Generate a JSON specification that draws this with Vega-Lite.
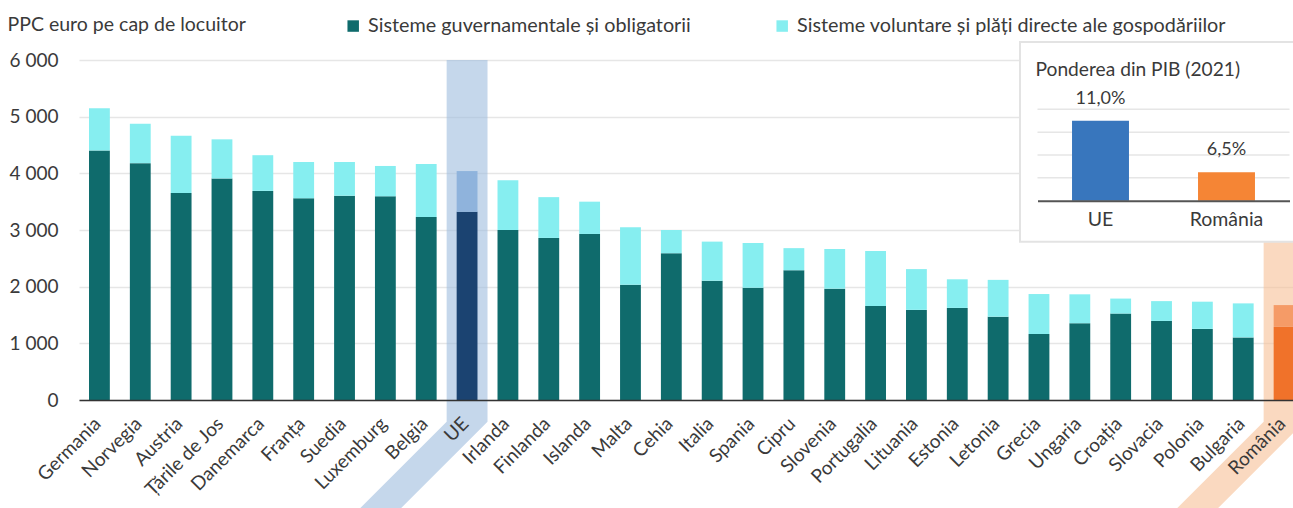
{
  "$schema": "https://vega.github.io/schema/vega-lite/v6.json",
  "width": 1214,
  "height": 340,
  "autosize": {"type": "none"},
  "padding": {"left": 79, "top": 60, "right": 0, "bottom": 108},
  "background": "white",
  "config": {
    "view": {"stroke": null},
    "locale": {"number": {"decimal": ",", "thousands": " ", "grouping": [3], "currency": ["", ""]}},
    "font": "Lato",
    "axis": {"labelFont": "Lato", "titleFont": "Lato", "labelColor": "#3a3a3a", "titleColor": "#3a3a3a", "titleFontWeight": "normal", "labelFontWeight": "normal"},
    "text": {"font": "Lato"}
  },
  "resolve": {"scale": {"x": "independent", "y": "independent", "color": "independent"}},
  "layer": [
    {
      "data": {"values": [
        {"hl": "UE", "lvl": 6000, "from": 9, "to": 10},
        {"hl": "UE", "lvl": -383, "from": 9, "to": 10},
        {"hl": "UE", "lvl": -2300, "from": 6.34, "to": 7.34},
        {"hl": "România", "lvl": 6000, "from": 29, "to": 30},
        {"hl": "România", "lvl": -383, "from": 29, "to": 30},
        {"hl": "România", "lvl": -2300, "from": 26.34, "to": 27.34}
      ]},
      "mark": {"type": "area", "orient": "horizontal", "opacity": 0.6},
      "encoding": {
        "y": {"field": "lvl", "type": "quantitative", "scale": {"domain": [0, 6000], "nice": false, "zero": false}, "axis": null},
        "x": {"field": "from", "type": "quantitative", "stack": null, "scale": {"domain": [0, 30], "range": [0, 1225.5], "nice": false, "zero": false}, "axis": null},
        "x2": {"field": "to"},
        "color": {"field": "hl", "type": "nominal", "scale": {"domain": ["UE", "România"], "range": ["#9ebcde", "#f7c096"]}, "legend": null}
      }
    },
    {
      "data": {"values": [
        {"country": "Germania", "series": "Sisteme guvernamentale și obligatorii", "value": 4405},
        {"country": "Germania", "series": "Sisteme voluntare și plăți directe ale gospodăriilor", "value": 745},
        {"country": "Norvegia", "series": "Sisteme guvernamentale și obligatorii", "value": 4180},
        {"country": "Norvegia", "series": "Sisteme voluntare și plăți directe ale gospodăriilor", "value": 695},
        {"country": "Austria", "series": "Sisteme guvernamentale și obligatorii", "value": 3655},
        {"country": "Austria", "series": "Sisteme voluntare și plăți directe ale gospodăriilor", "value": 1010},
        {"country": "Țările de Jos", "series": "Sisteme guvernamentale și obligatorii", "value": 3910},
        {"country": "Țările de Jos", "series": "Sisteme voluntare și plăți directe ale gospodăriilor", "value": 690},
        {"country": "Danemarca", "series": "Sisteme guvernamentale și obligatorii", "value": 3690},
        {"country": "Danemarca", "series": "Sisteme voluntare și plăți directe ale gospodăriilor", "value": 630},
        {"country": "Franța", "series": "Sisteme guvernamentale și obligatorii", "value": 3560},
        {"country": "Franța", "series": "Sisteme voluntare și plăți directe ale gospodăriilor", "value": 640},
        {"country": "Suedia", "series": "Sisteme guvernamentale și obligatorii", "value": 3605},
        {"country": "Suedia", "series": "Sisteme voluntare și plăți directe ale gospodăriilor", "value": 595},
        {"country": "Luxemburg", "series": "Sisteme guvernamentale și obligatorii", "value": 3595},
        {"country": "Luxemburg", "series": "Sisteme voluntare și plăți directe ale gospodăriilor", "value": 535},
        {"country": "Belgia", "series": "Sisteme guvernamentale și obligatorii", "value": 3230},
        {"country": "Belgia", "series": "Sisteme voluntare și plăți directe ale gospodăriilor", "value": 935},
        {"country": "UE", "series": "Sisteme guvernamentale și obligatorii", "value": 3320},
        {"country": "UE", "series": "Sisteme voluntare și plăți directe ale gospodăriilor", "value": 720},
        {"country": "Irlanda", "series": "Sisteme guvernamentale și obligatorii", "value": 3000},
        {"country": "Irlanda", "series": "Sisteme voluntare și plăți directe ale gospodăriilor", "value": 880},
        {"country": "Finlanda", "series": "Sisteme guvernamentale și obligatorii", "value": 2860},
        {"country": "Finlanda", "series": "Sisteme voluntare și plăți directe ale gospodăriilor", "value": 720},
        {"country": "Islanda", "series": "Sisteme guvernamentale și obligatorii", "value": 2930},
        {"country": "Islanda", "series": "Sisteme voluntare și plăți directe ale gospodăriilor", "value": 570},
        {"country": "Malta", "series": "Sisteme guvernamentale și obligatorii", "value": 2035},
        {"country": "Malta", "series": "Sisteme voluntare și plăți directe ale gospodăriilor", "value": 1015},
        {"country": "Cehia", "series": "Sisteme guvernamentale și obligatorii", "value": 2590},
        {"country": "Cehia", "series": "Sisteme voluntare și plăți directe ale gospodăriilor", "value": 410},
        {"country": "Italia", "series": "Sisteme guvernamentale și obligatorii", "value": 2105},
        {"country": "Italia", "series": "Sisteme voluntare și plăți directe ale gospodăriilor", "value": 690},
        {"country": "Spania", "series": "Sisteme guvernamentale și obligatorii", "value": 1980},
        {"country": "Spania", "series": "Sisteme voluntare și plăți directe ale gospodăriilor", "value": 790},
        {"country": "Cipru", "series": "Sisteme guvernamentale și obligatorii", "value": 2290},
        {"country": "Cipru", "series": "Sisteme voluntare și plăți directe ale gospodăriilor", "value": 390},
        {"country": "Slovenia", "series": "Sisteme guvernamentale și obligatorii", "value": 1965},
        {"country": "Slovenia", "series": "Sisteme voluntare și plăți directe ale gospodăriilor", "value": 700},
        {"country": "Portugalia", "series": "Sisteme guvernamentale și obligatorii", "value": 1660},
        {"country": "Portugalia", "series": "Sisteme voluntare și plăți directe ale gospodăriilor", "value": 970},
        {"country": "Lituania", "series": "Sisteme guvernamentale și obligatorii", "value": 1590},
        {"country": "Lituania", "series": "Sisteme voluntare și plăți directe ale gospodăriilor", "value": 720},
        {"country": "Estonia", "series": "Sisteme guvernamentale și obligatorii", "value": 1625},
        {"country": "Estonia", "series": "Sisteme voluntare și plăți directe ale gospodăriilor", "value": 505},
        {"country": "Letonia", "series": "Sisteme guvernamentale și obligatorii", "value": 1470},
        {"country": "Letonia", "series": "Sisteme voluntare și plăți directe ale gospodăriilor", "value": 650},
        {"country": "Grecia", "series": "Sisteme guvernamentale și obligatorii", "value": 1165},
        {"country": "Grecia", "series": "Sisteme voluntare și plăți directe ale gospodăriilor", "value": 705},
        {"country": "Ungaria", "series": "Sisteme guvernamentale și obligatorii", "value": 1355},
        {"country": "Ungaria", "series": "Sisteme voluntare și plăți directe ale gospodăriilor", "value": 510},
        {"country": "Croația", "series": "Sisteme guvernamentale și obligatorii", "value": 1525},
        {"country": "Croația", "series": "Sisteme voluntare și plăți directe ale gospodăriilor", "value": 265},
        {"country": "Slovacia", "series": "Sisteme guvernamentale și obligatorii", "value": 1395},
        {"country": "Slovacia", "series": "Sisteme voluntare și plăți directe ale gospodăriilor", "value": 350},
        {"country": "Polonia", "series": "Sisteme guvernamentale și obligatorii", "value": 1255},
        {"country": "Polonia", "series": "Sisteme voluntare și plăți directe ale gospodăriilor", "value": 480},
        {"country": "Bulgaria", "series": "Sisteme guvernamentale și obligatorii", "value": 1105},
        {"country": "Bulgaria", "series": "Sisteme voluntare și plăți directe ale gospodăriilor", "value": 600},
        {"country": "România", "series": "Sisteme guvernamentale și obligatorii", "value": 1290},
        {"country": "România", "series": "Sisteme voluntare și plăți directe ale gospodăriilor", "value": 385}
      ]},
      "mark": {"type": "bar"},
      "encoding": {
        "x": {
          "field": "country", "type": "nominal", "sort": null,
          "scale": {"range": [0, 1225.5], "paddingInner": 0.49, "paddingOuter": 0.245},
          "axis": {"orient": "bottom", "title": null, "labelAngle": -45, "labelAlign": "right", "labelBaseline": "top", "labelFont": "Lato", "labelFontSize": 19, "labelPadding": 14, "labelOffset": -8, "ticks": false, "domainColor": "#333333", "domainWidth": 1.5, "labelOverlap": false, "grid": false, "zindex": 1}
        },
        "y": {
          "field": "value", "type": "quantitative", "stack": "zero",
          "scale": {"domain": [0, 6000], "nice": false},
          "axis": {"orient": "left", "values": [0, 1000, 2000, 3000, 4000, 5000, 6000], "format": ",.0f", "grid": true, "gridColor": "#e6e6e6", "gridWidth": 1.5, "domain": false, "ticks": false, "labelPadding": 21, "labelFontSize": 19, "title": "PPC euro pe cap de locuitor", "titleAngle": 0, "titleAlign": "left", "titleBaseline": "alphabetic", "titleX": -72, "titleY": -30, "titleFontSize": 19.5}
        },
        "color": {
          "condition": [
            {"test": "datum.country === 'UE' && datum.series === 'Sisteme guvernamentale și obligatorii'", "value": "#1b4371"},
            {"test": "datum.country === 'UE'", "value": "#8fb3dc"},
            {"test": "datum.country === 'România' && datum.series === 'Sisteme guvernamentale și obligatorii'", "value": "#f0722a"},
            {"test": "datum.country === 'România'", "value": "#f59b67"}
          ],
          "field": "series", "type": "nominal",
          "scale": {"domain": ["Sisteme guvernamentale și obligatorii", "Sisteme voluntare și plăți directe ale gospodăriilor"], "range": ["#0f6b6c", "#86eef0"]},
          "legend": {"orient": "none", "legendX": 264.3, "legendY": -44, "direction": "horizontal", "title": null, "symbolType": "square", "symbolSize": 132, "symbolStrokeWidth": 0, "symbolOpacity": 1, "labelFont": "Lato", "labelFontSize": 19.8, "labelColor": "#3a3a3a", "labelLimit": 800, "columnPadding": 81, "labelOffset": 5, "padding": 0}
        },
        "order": {"field": "series", "sort": "ascending"}
      }
    },
    {
      "layer": [
        {
          "data": {"values": [{}]},
          "mark": {"type": "rect", "fill": "white", "stroke": "#e3e3e3", "strokeWidth": 2},
          "encoding": {
            "x": {"datum": -0.139, "type": "quantitative", "scale": {"domain": [0, 2], "range": [958.5, 1210.5], "nice": false, "zero": false}, "axis": null},
            "x2": {"datum": 2.4},
            "y": {"datum": 0.1789, "type": "quantitative", "scale": {"domain": [0.04, 0.12], "range": [140.7, 49.3], "nice": false, "zero": false}, "axis": null},
            "y2": {"datum": 0.0041}
          }
        },
        {
          "data": {"values": [{"g": 0.06}, {"g": 0.08}, {"g": 0.1}, {"g": 0.12}]},
          "mark": {"type": "rule", "color": "#e6e6e6", "strokeWidth": 1.5},
          "encoding": {
            "x": {"datum": 0, "type": "quantitative", "scale": {"domain": [0, 2], "range": [958.5, 1210.5], "nice": false, "zero": false}, "axis": null},
            "x2": {"datum": 2},
            "y": {"field": "g", "type": "quantitative", "scale": {"domain": [0.04, 0.12], "range": [140.7, 49.3], "nice": false, "zero": false}, "axis": null}
          }
        }
      ]
    },
    {
      "data": {"values": [{"grp": "UE", "share": 0.11}, {"grp": "România", "share": 0.065}]},
      "encoding": {
        "x": {
          "field": "grp", "type": "nominal", "sort": null,
          "scale": {"range": [958.5, 1210.5], "paddingInner": 0, "paddingOuter": 0},
          "axis": {"orient": "bottom", "offset": -199.3, "title": null, "labelAngle": 0, "labelAlign": "center", "labelBaseline": "top", "labelFont": "Lato", "labelFontSize": 19.5, "labelPadding": 10, "ticks": false, "domainColor": "#555555", "domainWidth": 2, "grid": false, "zindex": 1}
        },
        "y": {
          "field": "share", "type": "quantitative",
          "scale": {"domain": [0.04, 0.12], "range": [140.7, 49.3], "nice": false, "zero": false},
          "axis": {"orient": "left", "title": "Ponderea din PIB (2021)", "labels": false, "ticks": false, "domain": false, "grid": false, "titleAngle": 0, "titleAlign": "left", "titleBaseline": "alphabetic", "titleX": 956, "titleY": 15.7, "titleFontSize": 19.2, "zindex": 1}
        }
      },
      "layer": [
        {
          "mark": {"type": "bar", "width": {"band": 0.452}},
          "encoding": {
            "y2": {"datum": 0.04},
            "color": {"field": "grp", "type": "nominal", "scale": {"domain": ["UE", "România"], "range": ["#3876bd", "#f58535"]}, "legend": null}
          }
        },
        {
          "mark": {"type": "text", "dy": -17, "font": "Lato", "fontSize": 18, "color": "#3a3a3a", "baseline": "alphabetic", "align": "center"},
          "encoding": {"text": {"field": "share", "type": "quantitative", "format": ".1%"}}
        }
      ]
    }
  ]
}
